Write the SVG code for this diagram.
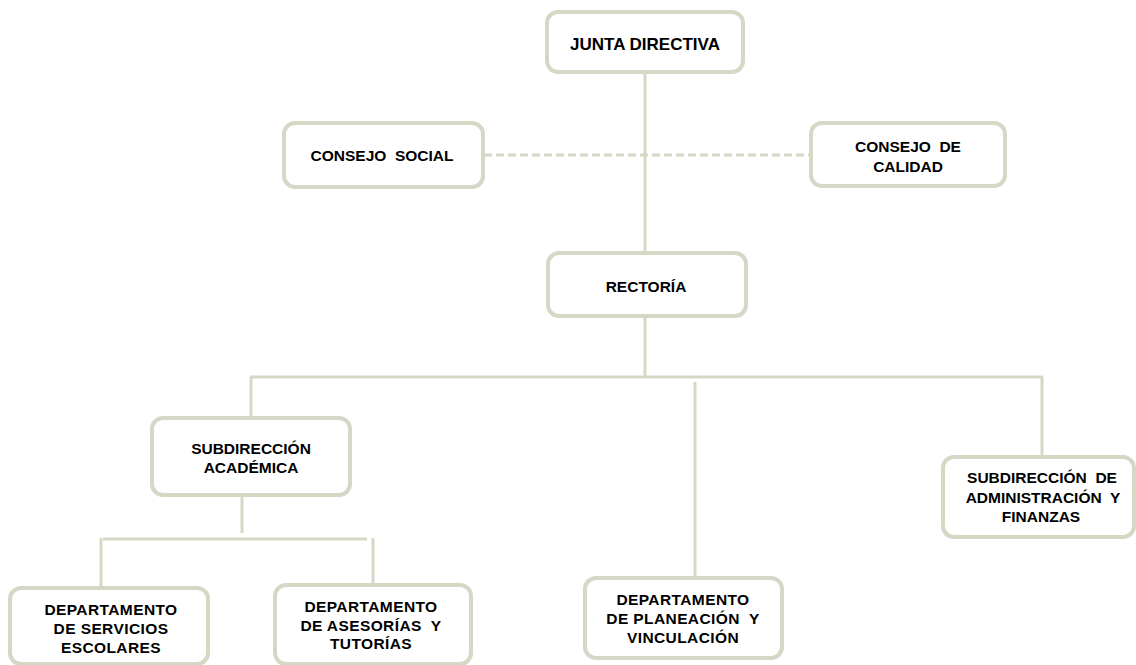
<svg xmlns="http://www.w3.org/2000/svg" width="1136" height="665" viewBox="0 0 1136 665">
<style>
.box{fill:#fff;stroke:#d5d8c5;stroke-width:4}
.ln{stroke:#d5d8c5;stroke-width:3;fill:none}
.dash{stroke:#d5d8c5;stroke-width:3;fill:none;stroke-dasharray:8 4}
text{font-family:"Liberation Sans",Arial,sans-serif;font-weight:bold;font-size:15.5px;fill:#000;text-anchor:middle;white-space:pre}
</style>
<rect width="1136" height="665" fill="#fff"/>
<g id="connectors">
<line class="ln" x1="645" y1="72" x2="645" y2="253"/>
<line class="dash" x1="484" y1="155" x2="810" y2="155"/>
<line class="ln" x1="645" y1="316" x2="645" y2="377"/>
<line class="ln" x1="250" y1="377" x2="1043" y2="377"/>
<line class="ln" x1="251" y1="377" x2="251" y2="418"/>
<line class="ln" x1="695" y1="382" x2="695" y2="578"/>
<line class="ln" x1="1042" y1="377" x2="1042" y2="457"/>
<line class="ln" x1="242" y1="495" x2="242" y2="533"/>
<line class="ln" x1="103" y1="539" x2="367" y2="539"/>
<line class="ln" x1="101" y1="538" x2="101" y2="588"/>
<line class="ln" x1="373" y1="538" x2="373" y2="585"/>
</g>
<g id="junta">
<rect class="box" x="547" y="12" width="196" height="60" rx="11"/>
<text x="645" y="50" style="font-size:17px">JUNTA DIRECTIVA</text>
</g>
<g id="consejo-social">
<rect class="box" x="284" y="123" width="199" height="64" rx="11"/>
<text x="382" y="161">CONSEJO  SOCIAL</text>
</g>
<g id="consejo-calidad">
<rect class="box" x="811" y="123" width="194" height="63" rx="11"/>
<text x="908" y="152">CONSEJO  DE</text>
<text x="908" y="172">CALIDAD</text>
</g>
<g id="rectoria">
<rect class="box" x="548" y="253" width="198" height="63" rx="11"/>
<text x="646" y="292">RECTORÍA</text>
</g>
<g id="sub-academica">
<rect class="box" x="152" y="418" width="198" height="77" rx="11"/>
<text x="251" y="454">SUBDIRECCIÓN</text>
<text x="251" y="473">ACADÉMICA</text>
</g>
<g id="sub-admin">
<rect class="box" x="943" y="457" width="191" height="80" rx="11"/>
<text x="1042" y="483">SUBDIRECCIÓN  DE</text>
<text x="1043" y="503">ADMINISTRACIÓN  Y</text>
<text x="1041" y="522">FINANZAS</text>
</g>
<g id="dept-servicios">
<rect class="box" x="10" y="588" width="198" height="76" rx="11"/>
<text x="111" y="615" style="letter-spacing:0.4px">DEPARTAMENTO</text>
<text x="111" y="634" style="letter-spacing:0.4px">DE SERVICIOS</text>
<text x="111" y="653" style="letter-spacing:0.4px">ESCOLARES</text>
</g>
<g id="dept-asesorias">
<rect class="box" x="275" y="585" width="196" height="79" rx="11"/>
<text x="371" y="612" style="letter-spacing:0.4px">DEPARTAMENTO</text>
<text x="371" y="631" style="letter-spacing:0.4px">DE ASESORÍAS  Y</text>
<text x="371" y="649" style="letter-spacing:0.4px">TUTORÍAS</text>
</g>
<g id="dept-planeacion">
<rect class="box" x="585" y="578" width="197" height="80" rx="11"/>
<text x="683" y="605" style="letter-spacing:0.4px">DEPARTAMENTO</text>
<text x="683" y="624" style="letter-spacing:0.4px">DE PLANEACIÓN  Y</text>
<text x="683" y="643" style="letter-spacing:0.4px">VINCULACIÓN</text>
</g>
</svg>
